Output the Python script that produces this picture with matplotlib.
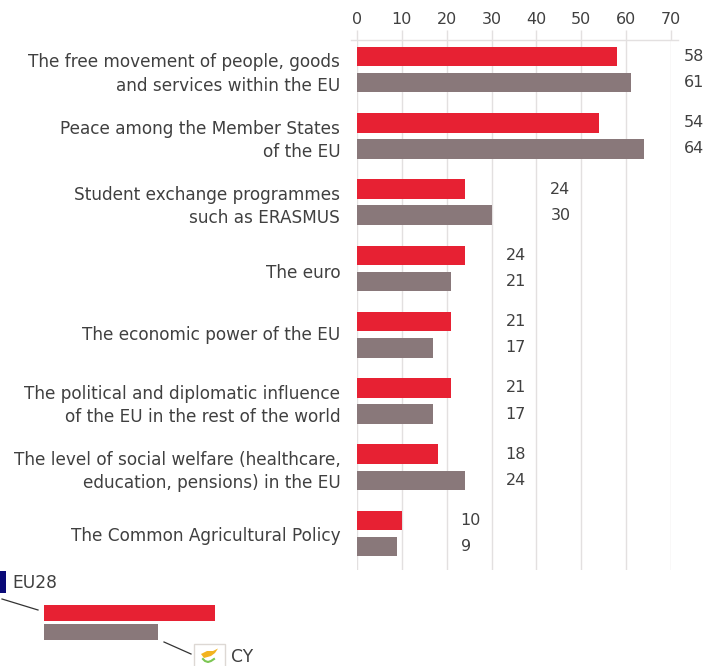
import numpy as np
import matplotlib
matplotlib.use("Agg")
import matplotlib.pyplot as plt
from matplotlib.patches import Rectangle, Polygon
from matplotlib.lines import Line2D
from matplotlib.transforms import ScaledTranslation

# --- DATOS ---
categories = [
    "The free movement of people, goods\nand services within the EU",
    "Peace among the Member States\nof the EU",
    "Student exchange programmes\nsuch as ERASMUS",
    "The euro",
    "The economic power of the EU",
    "The political and diplomatic influence\nof the EU in the rest of the world",
    "The level of social welfare (healthcare,\neducation, pensions) in the EU",
    "The Common Agricultural Policy",
]
eu28 = [58, 54, 24, 24, 21, 21, 18, 10]
cy = [61, 64, 30, 21, 17, 17, 24, 9]
ticks = [0, 10, 20, 30, 40, 50, 60, 70]

RED = "#e72133"
GREY = "#89787a"
TEXT = "#404040"
W, H = 719, 666

plt.rcParams["font.family"] = ["DejaVu Sans"]
fig = plt.figure(figsize=(W / 100, H / 100), dpi=100)


def box(x0, y0, x1, y1):
    # pixeles (origen arriba a la izquierda) -> fracciones de figura
    return [x0 / W, 1 - y1 / H, (x1 - x0) / W, (y1 - y0) / H]


ax = fig.add_axes(box(357, 40, 671, 570))
y = np.arange(len(categories))
ax.barh(y - 0.197, eu28, height=0.295, color=RED)
ax.barh(y + 0.197, cy, height=0.295, color=GREY)
ax.set_xlim(0, 70)
ax.set_ylim(len(categories) - 0.45, -0.445)

ax.xaxis.tick_top()
ax.set_xticks(ticks)
ax.set_yticks(y)
ax.set_yticklabels(categories, ha="right", ma="right", linespacing=1.37)
ax.tick_params(axis="x", length=7, width=1, color="#e3e0e0", labelsize=11.5,
               labelcolor=TEXT, pad=2)
ax.tick_params(axis="y", length=0, labelsize=12.2, labelcolor=TEXT, pad=12)
ax.grid(axis="x", color="#e3e0e0", lw=1)
ax.set_axisbelow(True)
for s in ax.spines.values():
    s.set_visible(False)
# linea superior, sale un poco por los lados
ax.plot([-1.3, 71.5], [-0.445, -0.445], color="#e3e0e0", lw=1, clip_on=False)

# las etiquetas de una linea no van centradas igual en el original
labels = ax.get_yticklabels()
labels[3].set_transform(labels[3].get_transform() + ScaledTranslation(0, -2.5 / 100, fig.dpi_scale_trans))
labels[4].set_transform(labels[4].get_transform() + ScaledTranslation(0, 1.5 / 100, fig.dpi_scale_trans))

# etiquetas de valores, alineadas por grupo
for i in range(len(categories)):
    xl = np.floor(max(eu28[i], cy[i]) / 10) * 10 + 13.1
    if xl > 73:
        xl = 72.85
    ax.text(xl, i - 0.197, str(eu28[i]), va="center", ha="left", fontsize=11.5, color=TEXT)
    ax.text(xl, i + 0.197, str(cy[i]), va="center", ha="left", fontsize=11.5, color=TEXT)

# --- LEYENDA ---
leg = fig.add_axes([0, 0, 1, 1], facecolor="none")
leg.set_xlim(0, W)
leg.set_ylim(H, 0)
leg.axis("off")
leg.add_patch(Rectangle((0, 571), 5.5, 22, color="#0a0a78", lw=0))
leg.text(12, 583, "EU28", fontsize=12.3, color=TEXT, va="center")
leg.add_patch(Rectangle((44, 605), 171, 16, color=RED, lw=0))
leg.add_patch(Rectangle((44, 624), 114, 16, color=GREY, lw=0))
leg.add_line(Line2D([2, 38], [599, 610], color="#333333", lw=0.9))
leg.add_line(Line2D([164, 191], [642, 654], color="#333333", lw=0.9))
leg.add_patch(Rectangle((194, 644), 31, 24, fc="white", ec="#ddd8d4", lw=1, clip_on=True))
leg.add_patch(Polygon([[201, 654], [207, 651], [213, 651], [218, 648.5], [215, 653],
                       [211, 656], [204, 658]], color="#f2b320", lw=0))
leg.plot([203, 205, 208, 211, 214], [659, 661, 662, 661, 659], color="#7cc653", lw=1.5)
leg.text(231, 656.5, "CY", fontsize=12.3, color=TEXT, va="center")

fig.savefig("out.png", dpi=100)
